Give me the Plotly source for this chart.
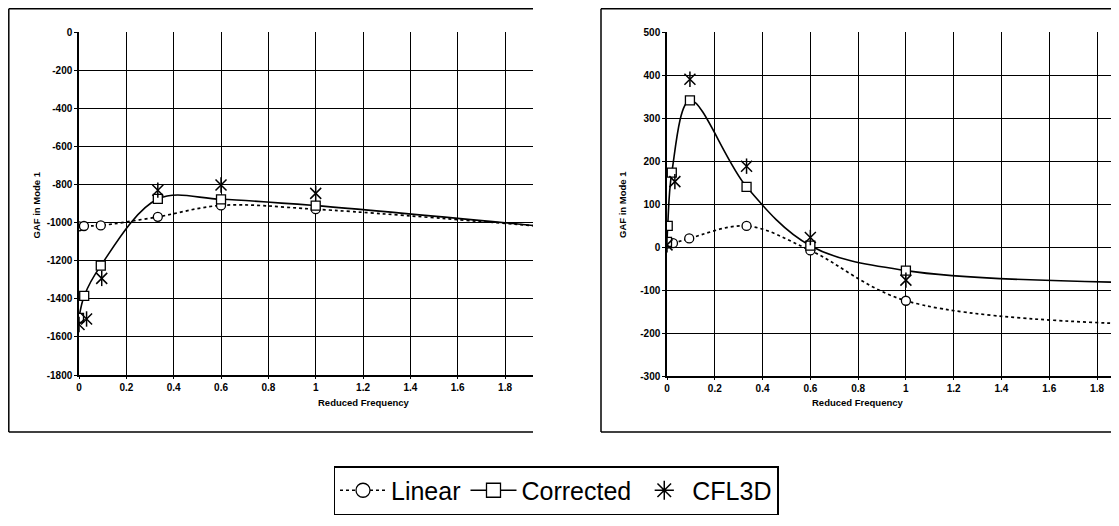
import plotly.graph_objects as go

# Reference is 1119x526; the page body has an 8px margin, so the figure is drawn
# 8px smaller on the right/bottom and every reference pixel p maps to p - 8.
OFF = 8
W, H = 1111, 510

# ---- Data ----
# Left panel
left_lin_x = [0.0, 0.021, 0.092, 0.333, 0.6, 1.0, 2.0]
left_lin_y = [-1020, -1018, -1015, -970, -910, -930, -1025]
left_cor_x = [0.0, 0.022, 0.092, 0.333, 0.6, 1.0, 2.0]
left_cor_y = [-1500, -1385, -1226, -876, -878, -911, -1025]
left_cfl_x = [0.0, 0.032, 0.096, 0.333, 0.6, 1.0]
left_cfl_y = [-1535, -1506, -1293, -830, -803, -847]

# Right panel
right_lin_x = [0.0, 0.025, 0.093, 0.333, 0.6, 1.0, 2.0]
right_lin_y = [8, 9, 20, 49, -8, -125, -180]
right_cor_x = [0.0, 0.003, 0.02, 0.096, 0.333, 0.6, 1.0, 2.0]
right_cor_y = [12, 49, 173, 341, 140, 3, -55, -83]
right_cfl_x = [0.0, 0.033, 0.096, 0.333, 0.6, 1.0]
right_cfl_y = [5, 152, 390, 188, 22, -77]

x_ticks = [0, 0.2, 0.4, 0.6, 0.8, 1.0, 1.2, 1.4, 1.6, 1.8]
x_tick_text = ["0", "0.2", "0.4", "0.6", "0.8", "1", "1.2", "1.4", "1.6", "1.8"]
left_y_ticks = [0, -200, -400, -600, -800, -1000, -1200, -1400, -1600, -1800]
left_y_text = ["0", "-200", "-400", "-600", "-800", "-1000", "-1200", "-1400", "-1600", "-1800"]
right_y_ticks = [500, 400, 300, 200, 100, 0, -100, -200, -300]
right_y_text = ["500", "400", "300", "200", "100", "0", "-100", "-200", "-300"]

names = ["Linear", "Corrected", "CFL3D"]
x_title = "Reduced Frequency"
y_title = "GAF in Mode 1"

FONT = "Arial, 'Liberation Sans', Helvetica, sans-serif"

def px2x(p):
    return max(p - OFF, 0.8) / W

def px2y(p):
    return (H - max(p - OFF, 0.8)) / H

fig = go.Figure()

def add_panel(xa, ya, lx, ly, cx, cy, fx, fy):
    fig.add_trace(go.Scatter(x=lx, y=ly, mode="lines+markers", xaxis=xa, yaxis=ya,
                             line=dict(color="black", width=1.7, dash="dot", shape="spline", smoothing=1.0),
                             marker=dict(symbol="circle", size=9, color="white", line=dict(color="black", width=1.3)),
                             showlegend=False, cliponaxis=True))
    fig.add_trace(go.Scatter(x=cx, y=cy, mode="lines+markers", xaxis=xa, yaxis=ya,
                             line=dict(color="black", width=1.6, shape="spline", smoothing=1.0),
                             marker=dict(symbol="square", size=9, color="white", line=dict(color="black", width=1.3)),
                             showlegend=False, cliponaxis=True))
    # CFL3D star: an X with a vertical bar
    fig.add_trace(go.Scatter(x=fx, y=fy, mode="markers", xaxis=xa, yaxis=ya,
                             marker=dict(symbol="x-thin-open", size=11, color="black", line=dict(color="black", width=1.5)),
                             showlegend=False, cliponaxis=True))
    fig.add_trace(go.Scatter(x=fx, y=fy, mode="markers", xaxis=xa, yaxis=ya,
                             marker=dict(symbol="line-ns-open", size=11, color="black", line=dict(color="black", width=1.5)),
                             showlegend=False, cliponaxis=True))

add_panel("x", "y", left_lin_x, left_lin_y, left_cor_x, left_cor_y, left_cfl_x, left_cfl_y)
add_panel("x2", "y2", right_lin_x, right_lin_y, right_cor_x, right_cor_y, right_cfl_x, right_cfl_y)

# legend-only entries
fig.add_trace(go.Scatter(x=[None], y=[None], mode="lines+markers", name=names[0],
                         line=dict(color="black", width=1.6, dash="dot"),
                         marker=dict(symbol="circle", size=14, color="white", line=dict(color="black", width=1.3))))
fig.add_trace(go.Scatter(x=[None], y=[None], mode="lines+markers", name=names[1],
                         line=dict(color="black", width=1.5),
                         marker=dict(symbol="square", size=14, color="white", line=dict(color="black", width=1.3))))
fig.add_trace(go.Scatter(x=[None], y=[None], mode="markers", name=names[2],
                         marker=dict(symbol="asterisk-open", size=16, color="black", line=dict(color="black", width=1.5))))

tickfont = dict(family=FONT, size=10, color="black", weight="bold")
common_x = dict(tickvals=x_ticks, ticktext=x_tick_text, showgrid=True, gridcolor="black", gridwidth=1,
                showline=True, linecolor="black", linewidth=1.5, zeroline=False, ticks="outside",
                ticklen=2, tickcolor="black", tickfont=tickfont, fixedrange=True, automargin=False)
common_y = dict(showgrid=True, gridcolor="black", gridwidth=1, showline=True, linecolor="black",
                linewidth=1.5, zeroline=False, ticks="outside", ticklen=3, tickcolor="black",
                tickfont=tickfont, fixedrange=True, automargin=False)

fig.update_layout(
    width=W, height=H,
    margin=dict(l=0, r=0, t=0, b=0, autoexpand=False),
    paper_bgcolor="white", plot_bgcolor="white",
    font=dict(family=FONT, color="black"),
    xaxis=dict(domain=[px2x(79), px2x(533)], range=[0, 1.918], anchor="y", **common_x),
    yaxis=dict(domain=[px2y(375), px2y(32)], range=[-1800, 0], anchor="x",
               tickvals=left_y_ticks, ticktext=left_y_text, **common_y),
    xaxis2=dict(domain=[px2x(667), 1.0], range=[0, 1.892 * (1111 + OFF - 667) / (1119 - 667)],
                anchor="y2", **common_x),
    yaxis2=dict(domain=[px2y(376), px2y(32)], range=[-300, 500], anchor="x2",
                tickvals=right_y_ticks, ticktext=right_y_text, **common_y),
    showlegend=True,
    legend=dict(orientation="h", x=px2x(556), xanchor="center", y=px2y(515), yanchor="bottom",
                bordercolor="black", borderwidth=1.5, bgcolor="white",
                font=dict(family=FONT, size=25, color="black"), itemwidth=46,
                tracegroupgap=0),
)

# Axis titles
for cx in (316, 906):
    fig.add_annotation(x=px2x(cx), y=px2y(410), xref="paper", yref="paper", text=f"<b>{x_title}</b>",
                       showarrow=False, font=dict(family=FONT, size=9.5, color="black"))
for cx in (29, 623):
    fig.add_annotation(x=px2x(cx), y=px2y(205), xref="paper", yref="paper", text=f"<b>{y_title}</b>",
                       textangle=-90, showarrow=False, font=dict(family=FONT, size=9.5, color="black"))

# Chart frames (top, left, bottom borders)
for x0, x1, ytop, ybot in [(7, 533, 6, 432), (601, 1119, 5, 432)]:
    for (a0, a1, b0, b1) in [(x0, x1, ytop, ytop), (x0, x1, ybot, ybot), (x0, x0, ytop, ybot)]:
        fig.add_shape(type="line", xref="paper", yref="paper",
                      x0=px2x(a0), x1=px2x(a1), y0=px2y(b0), y1=px2y(b1),
                      line=dict(color="black", width=1.5))

fig.write_html("out.html")
